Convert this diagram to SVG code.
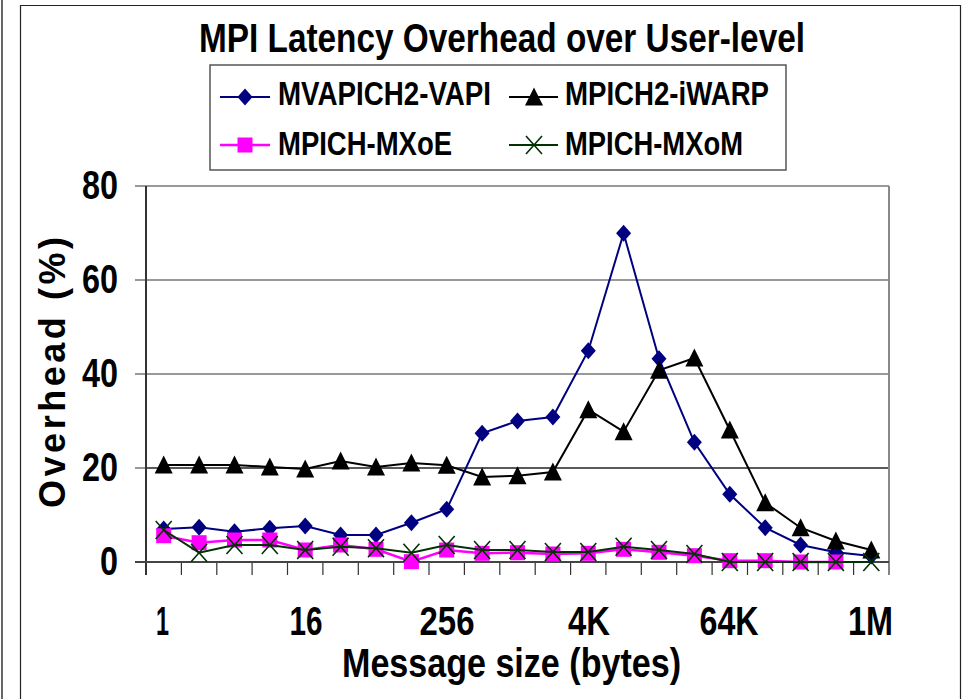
<svg xmlns="http://www.w3.org/2000/svg" xmlns:xlink="http://www.w3.org/1999/xlink" width="963" height="699" viewBox="0 0 963 699">
<style>
.t{font-family:"Liberation Sans Narrow","Liberation Sans",Arial,sans-serif;font-weight:bold;fill:#000}
.grid{stroke:#777;stroke-width:1.5;fill:none}
.tick{stroke:#333;stroke-width:1.2;fill:none}
.s1{stroke:#000080;stroke-width:2;fill:none}
.s2{stroke:#000;stroke-width:2;fill:none}
.s3{stroke:#FF00FF;stroke-width:2.5;fill:none}
.s4{stroke:#003300;stroke-width:2;fill:none}
</style>
<defs>
<path id="mDia" d="M0,-8.5 L7.5,0 L0,8.5 L-7.5,0Z" fill="#000080"/>
<path id="mTri" d="M0,-9.5 L9,8.5 L-9,8.5Z" fill="#000"/>
<rect id="mSq" x="-7.5" y="-7.5" width="15" height="15" fill="#FF00FF"/>
<path id="mX" d="M-8,-9 L8,9 M-8,9 L8,-9" stroke="#003300" stroke-width="1.6" fill="none"/>
</defs>
<rect width="963" height="699" fill="#fff"/>
<g id="frame">
<line x1="2" y1="0" x2="2" y2="699" stroke="#000" stroke-width="1.2"/>
<path d="M20.5,705 V5.5 H960.5 V705" fill="none" stroke="#222" stroke-width="1.2"/>
</g>
<g id="title">
<text class="t" x="502" y="52" font-size="41" text-anchor="middle" textLength="606" lengthAdjust="spacingAndGlyphs">MPI Latency Overhead over User-level</text>
</g>
<g id="legend">
<rect x="210" y="65" width="576" height="105" fill="#fff" stroke="#555" stroke-width="1.5"/>
<line class="s1" x1="220" y1="97" x2="270" y2="97"/><use xlink:href="#mDia" x="245" y="97"/>
<text class="t" x="278" y="105" font-size="33" textLength="213" lengthAdjust="spacingAndGlyphs">MVAPICH2-VAPI</text>
<line class="s2" x1="509" y1="97" x2="558" y2="97"/><use xlink:href="#mTri" x="534" y="97"/>
<text class="t" x="565" y="105" font-size="33" textLength="204" lengthAdjust="spacingAndGlyphs">MPICH2-iWARP</text>
<line class="s3" x1="220" y1="145" x2="270" y2="145"/><use xlink:href="#mSq" x="245" y="145"/>
<text class="t" x="278" y="155" font-size="33" textLength="174" lengthAdjust="spacingAndGlyphs">MPICH-MXoE</text>
<line class="s4" x1="509" y1="145" x2="558" y2="145"/><use xlink:href="#mX" x="534" y="145"/>
<text class="t" x="565" y="155" font-size="33" textLength="178" lengthAdjust="spacingAndGlyphs">MPICH-MXoM</text>
</g>
<g id="axes">
<line class="grid" x1="146" y1="280" x2="889" y2="280"/>
<line class="grid" x1="146" y1="374" x2="889" y2="374"/>
<line x1="146" y1="468" x2="889" y2="468" stroke="#222" stroke-width="1.3"/>
<line x1="146" y1="186" x2="889" y2="186" stroke="#999" stroke-width="2"/>
<line x1="889" y1="186" x2="889" y2="562" stroke="#888" stroke-width="2"/>
<path class="tick" d="M135,186H146M135,280H146M135,374H146M135,468H146"/>
<path class="tick" d="M181.4,562V575M216.8,562V575M252.1,562V575M287.5,562V575M322.9,562V575M358.3,562V575M393.7,562V575M429.0,562V575M464.4,562V575M499.8,562V575M535.2,562V575M570.6,562V575M605.9,562V575M641.3,562V575M676.7,562V575M712.1,562V575M747.5,562V575M782.8,562V575M818.2,562V575M853.6,562V575M889,562V575"/>
<line x1="146" y1="186" x2="146" y2="575" stroke="#333" stroke-width="2"/>
<line x1="135" y1="562" x2="889" y2="562" stroke="#444" stroke-width="2"/>
<g class="t" font-size="41" text-anchor="end">
<text x="118" y="199" textLength="36" lengthAdjust="spacingAndGlyphs">80</text>
<text x="118" y="293" textLength="36" lengthAdjust="spacingAndGlyphs">60</text>
<text x="118" y="387" textLength="36" lengthAdjust="spacingAndGlyphs">40</text>
<text x="118" y="481" textLength="36" lengthAdjust="spacingAndGlyphs">20</text>
<text x="118" y="575" textLength="18" lengthAdjust="spacingAndGlyphs">0</text>
</g>
<g class="t" font-size="41" text-anchor="middle">
<text x="162.5" y="635" textLength="13" lengthAdjust="spacingAndGlyphs">1</text>
<text x="306" y="635" textLength="33" lengthAdjust="spacingAndGlyphs">16</text>
<text x="447" y="635" textLength="55" lengthAdjust="spacingAndGlyphs">256</text>
<text x="589" y="635" textLength="42" lengthAdjust="spacingAndGlyphs">4K</text>
<text x="729" y="635" textLength="59" lengthAdjust="spacingAndGlyphs">64K</text>
<text x="870.5" y="635" textLength="45" lengthAdjust="spacingAndGlyphs">1M</text>
</g>
<text class="t" x="511.5" y="677" font-size="41" text-anchor="middle" textLength="339" lengthAdjust="spacingAndGlyphs">Message size (bytes)</text>
<text x="0" y="0" transform="translate(65,372.5) rotate(-90)" font-family="'Liberation Sans',Arial,sans-serif" font-weight="bold" font-size="36" text-anchor="middle" textLength="271" lengthAdjust="spacing">Overhead (%)</text>
</g>
<g id="connectors">
<polyline class="s1" points="163.7,529 199.1,527.3 234.5,531.7 269.8,528.3 305.2,526 340.6,535 376,535 411.4,522.7 446.7,509.3 482.1,433.3 517.5,421 552.9,417 588.3,350.7 623.6,233.3 659,358.7 694.4,442.3 729.8,494.3 765.2,527.7 800.6,545 835.9,552.3 871.3,556"/>
<g id="s1m">
<use xlink:href="#mDia" x="163.7" y="529"/><use xlink:href="#mDia" x="199.1" y="527.3"/><use xlink:href="#mDia" x="234.5" y="531.7"/><use xlink:href="#mDia" x="269.8" y="528.3"/><use xlink:href="#mDia" x="305.2" y="526"/><use xlink:href="#mDia" x="340.6" y="535"/><use xlink:href="#mDia" x="376" y="535"/><use xlink:href="#mDia" x="411.4" y="522.7"/><use xlink:href="#mDia" x="446.7" y="509.3"/><use xlink:href="#mDia" x="482.1" y="433.3"/><use xlink:href="#mDia" x="517.5" y="421"/><use xlink:href="#mDia" x="552.9" y="417"/><use xlink:href="#mDia" x="588.3" y="350.7"/><use xlink:href="#mDia" x="623.6" y="233.3"/><use xlink:href="#mDia" x="659" y="358.7"/><use xlink:href="#mDia" x="694.4" y="442.3"/><use xlink:href="#mDia" x="729.8" y="494.3"/><use xlink:href="#mDia" x="765.2" y="527.7"/><use xlink:href="#mDia" x="800.6" y="545"/><use xlink:href="#mDia" x="835.9" y="552.3"/><use xlink:href="#mDia" x="871.3" y="556"/>
</g>
<polyline class="s2" points="163.7,465 199.1,465 234.5,465 269.8,467 305.2,469 340.6,461 376,467 411.4,463 446.7,465.3 482.1,477 517.5,475.7 552.9,472 588.3,409.7 623.6,431.7 659,370.3 694.4,358 729.8,430 765.2,502.7 800.6,527.7 835.9,541 871.3,550"/>
<g id="s2m">
<use xlink:href="#mTri" x="163.7" y="465"/><use xlink:href="#mTri" x="199.1" y="465"/><use xlink:href="#mTri" x="234.5" y="465"/><use xlink:href="#mTri" x="269.8" y="467"/><use xlink:href="#mTri" x="305.2" y="469"/><use xlink:href="#mTri" x="340.6" y="461"/><use xlink:href="#mTri" x="376" y="467"/><use xlink:href="#mTri" x="411.4" y="463"/><use xlink:href="#mTri" x="446.7" y="465.3"/><use xlink:href="#mTri" x="482.1" y="477"/><use xlink:href="#mTri" x="517.5" y="475.7"/><use xlink:href="#mTri" x="552.9" y="472"/><use xlink:href="#mTri" x="588.3" y="409.7"/><use xlink:href="#mTri" x="623.6" y="431.7"/><use xlink:href="#mTri" x="659" y="370.3"/><use xlink:href="#mTri" x="694.4" y="358"/><use xlink:href="#mTri" x="729.8" y="430"/><use xlink:href="#mTri" x="765.2" y="502.7"/><use xlink:href="#mTri" x="800.6" y="527.7"/><use xlink:href="#mTri" x="835.9" y="541"/><use xlink:href="#mTri" x="871.3" y="550"/>
</g>
<polyline class="s3" points="163.7,535.7 199.1,542.7 234.5,540 269.8,540 305.2,550 340.6,545 376,549.3 411.4,561.7 446.7,550 482.1,553.3 517.5,552.7 552.9,554 588.3,553.3 623.6,549.3 659,552.3 694.4,555.7 729.8,560.7 765.2,560.7 800.6,562 835.9,562"/>
<g id="s3m">
<use xlink:href="#mSq" x="163.7" y="535.7"/><use xlink:href="#mSq" x="199.1" y="542.7"/><use xlink:href="#mSq" x="234.5" y="540"/><use xlink:href="#mSq" x="269.8" y="540"/><use xlink:href="#mSq" x="305.2" y="550"/><use xlink:href="#mSq" x="340.6" y="545"/><use xlink:href="#mSq" x="376" y="549.3"/><use xlink:href="#mSq" x="411.4" y="561.7"/><use xlink:href="#mSq" x="446.7" y="550"/><use xlink:href="#mSq" x="482.1" y="553.3"/><use xlink:href="#mSq" x="517.5" y="552.7"/><use xlink:href="#mSq" x="552.9" y="554"/><use xlink:href="#mSq" x="588.3" y="553.3"/><use xlink:href="#mSq" x="623.6" y="549.3"/><use xlink:href="#mSq" x="659" y="552.3"/><use xlink:href="#mSq" x="694.4" y="555.7"/><use xlink:href="#mSq" x="729.8" y="560.7"/><use xlink:href="#mSq" x="765.2" y="560.7"/><use xlink:href="#mSq" x="800.6" y="562"/><use xlink:href="#mSq" x="835.9" y="562"/>
</g>
<polyline class="s4" points="163.7,530 199.1,552.7 234.5,545 269.8,545 305.2,550 340.6,546.7 376,548.3 411.4,552.7 446.7,545 482.1,550 517.5,550 552.9,552 588.3,552 623.6,546.7 659,550 694.4,554 729.8,562 765.2,562 800.6,562 835.9,562 871.3,562"/>
<g id="s4m">
<use xlink:href="#mX" x="163.7" y="530"/><use xlink:href="#mX" x="199.1" y="552.7"/><use xlink:href="#mX" x="234.5" y="545"/><use xlink:href="#mX" x="269.8" y="545"/><use xlink:href="#mX" x="305.2" y="550"/><use xlink:href="#mX" x="340.6" y="546.7"/><use xlink:href="#mX" x="376" y="548.3"/><use xlink:href="#mX" x="411.4" y="552.7"/><use xlink:href="#mX" x="446.7" y="545"/><use xlink:href="#mX" x="482.1" y="550"/><use xlink:href="#mX" x="517.5" y="550"/><use xlink:href="#mX" x="552.9" y="552"/><use xlink:href="#mX" x="588.3" y="552"/><use xlink:href="#mX" x="623.6" y="546.7"/><use xlink:href="#mX" x="659" y="550"/><use xlink:href="#mX" x="694.4" y="554"/><use xlink:href="#mX" x="729.8" y="562"/><use xlink:href="#mX" x="765.2" y="562"/><use xlink:href="#mX" x="800.6" y="562"/><use xlink:href="#mX" x="835.9" y="562"/><use xlink:href="#mX" x="871.3" y="562"/>
</g>
</g>
</svg>
